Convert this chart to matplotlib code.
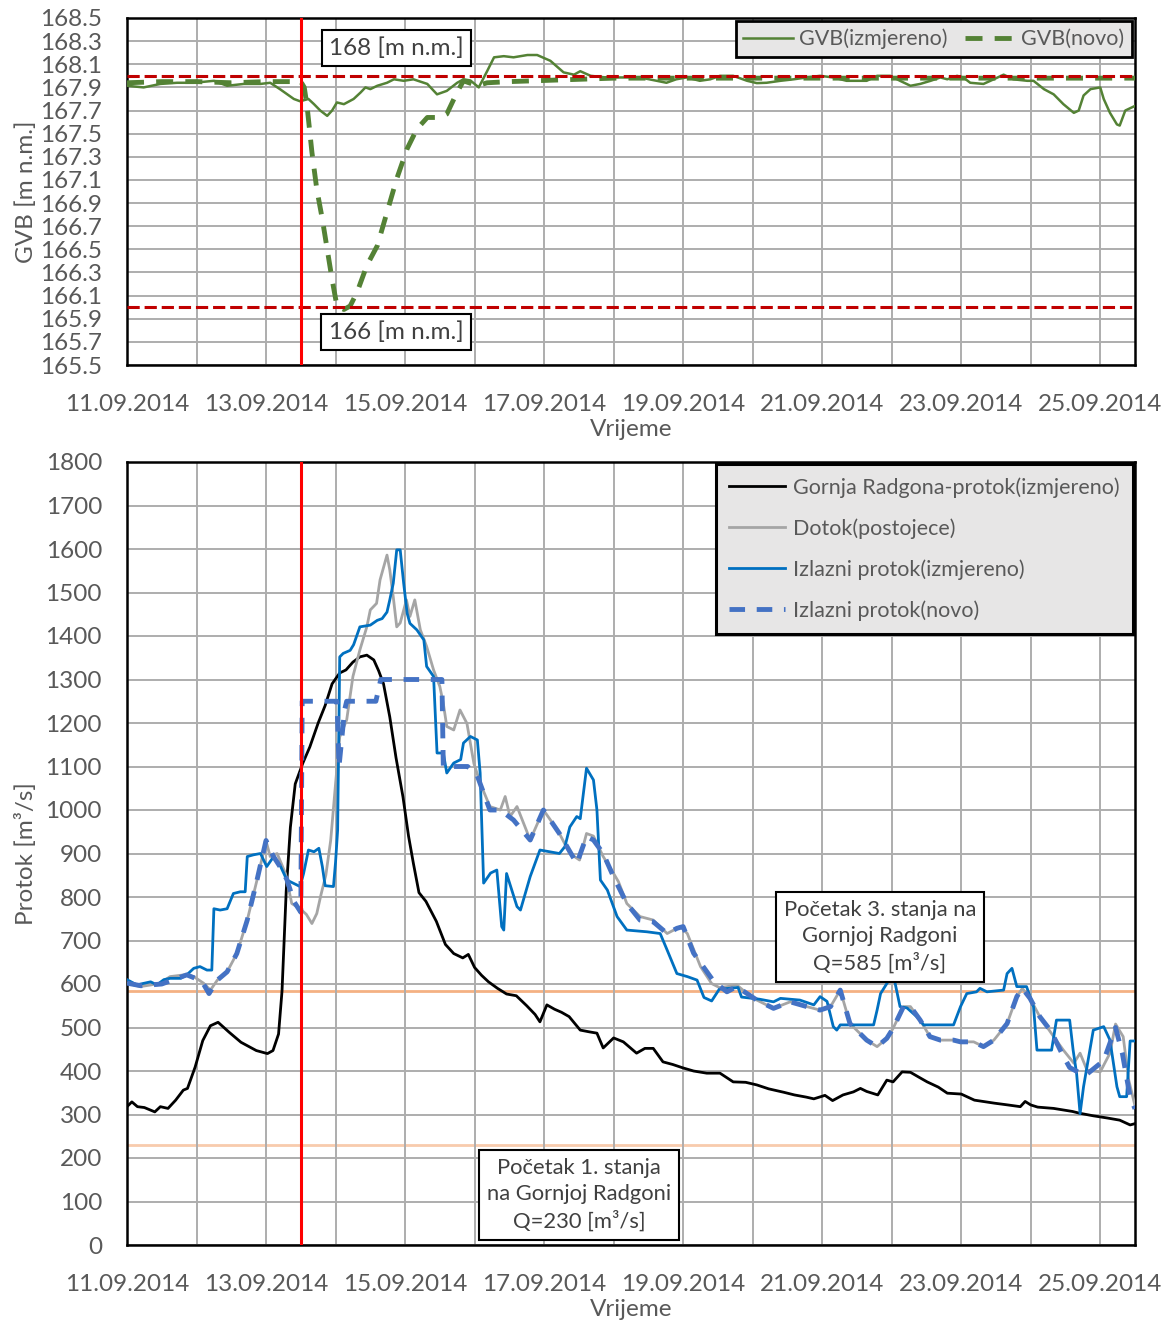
import matplotlib
matplotlib.use('Agg')
import matplotlib.pyplot as plt
from matplotlib.lines import Line2D

plt.rcParams['font.family'] = ['Lato', 'DejaVu Sans']

# --------------- podaci ---------------------------------------------
# vrijeme u danima od 11.09.2014 00:00
x_tick_pos = [0, 2, 4, 6, 8, 10, 12, 14]
x_tick_labels = ['11.09.2014', '13.09.2014', '15.09.2014', '17.09.2014',
                 '19.09.2014', '21.09.2014', '23.09.2014', '25.09.2014']
t_promjena = 2.5   # pocetak novog rada (crvena linija)

# GVB (izmjereno)
gvb_mj_t = [0, 0.24, 0.48, 0.72, 0.96, 1.25, 1.44, 1.68, 1.92, 2.06, 2.2, 2.4, 2.49, 2.61, 2.69,
            2.78, 2.88, 2.95, 3.02, 3.12, 3.26, 3.36, 3.43, 3.5, 3.6, 3.74, 3.84, 3.98, 4.12, 4.32,
            4.46, 4.6, 4.75, 4.84, 4.94, 5.06, 5.18, 5.28, 5.42, 5.56, 5.76, 5.9, 6.09, 6.28, 6.43,
            6.52, 6.67, 6.91, 7.09, 7.38, 7.62, 7.76, 7.9, 8.05, 8.24, 8.39, 8.53, 8.72, 8.92, 9.06,
            9.2, 9.4, 9.59, 9.78, 9.97, 10.16, 10.35, 10.64, 10.79, 10.98, 11.12, 11.27, 11.41,
            11.56, 11.7, 11.8, 11.94, 12.03, 12.13, 12.32, 12.42, 12.61, 12.75, 12.95, 13.04,
            13.19, 13.33, 13.47, 13.62, 13.69, 13.76, 13.86, 14.0, 14.05, 14.14, 14.24, 14.28,
            14.36, 14.5]
gvb_mj = [167.914, 167.90, 167.93, 167.94, 167.94, 167.957, 167.914, 167.93, 167.93, 167.94,
          167.885, 167.80, 167.78, 167.80, 167.755, 167.70, 167.654, 167.70, 167.77, 167.755,
          167.80, 167.856, 167.90, 167.885, 167.914, 167.94, 167.97, 167.957, 167.97, 167.93,
          167.84, 167.87, 167.94, 167.97, 167.96, 167.90, 168.04, 168.16, 168.17, 168.16, 168.18,
          168.18, 168.13, 168.03, 168.01, 168.04, 168.0, 167.985, 167.986, 167.986, 167.957,
          167.94, 167.97, 167.986, 167.957, 167.97, 168.0, 168.0, 167.957, 167.937, 167.94,
          167.957, 167.97, 167.986, 168.0, 167.986, 167.957, 167.957, 168.0, 168.0, 167.957,
          167.914, 167.93, 167.957, 167.986, 167.97, 168.0, 167.986, 167.94, 167.93, 167.957,
          168.01, 167.97, 167.957, 167.957, 167.885, 167.84, 167.755, 167.68, 167.70, 167.83,
          167.885, 167.90, 167.80, 167.68, 167.58, 167.57, 167.70, 167.74]

# GVB (novo)
gvb_novo_t = [0, 0.5, 1.0, 1.5, 2.0, 2.5, 2.55, 2.59, 2.66, 2.73, 2.81, 2.88, 2.95, 3.02, 3.12,
              3.21, 3.31, 3.45, 3.6, 3.74, 3.88, 4.03, 4.17, 4.32, 4.5, 4.6, 4.75, 4.84, 5.04,
              5.18, 5.5, 6.0, 7.0, 8.0, 9.0, 10.0, 11.0, 12.0, 13.0, 14.0, 14.5]
gvb_novo = [167.94, 167.95, 167.95, 167.94, 167.95, 167.95, 167.9, 167.74, 167.34, 167.02,
            166.76, 166.5, 166.24, 166.01, 165.98, 166.01, 166.13, 166.36, 166.53, 166.82,
            167.11, 167.37, 167.54, 167.64, 167.64, 167.67, 167.86, 167.957, 167.914, 167.94,
            167.95, 167.96, 167.98, 167.98, 167.98, 167.98, 167.98, 167.98, 167.98, 167.98,
            167.98]

# Gornja Radgona - protok (izmjereno)
gr_t = [0, 0.07, 0.15, 0.25, 0.4, 0.48, 0.59, 0.7, 0.81, 0.87, 0.98, 1.09, 1.2, 1.31, 1.47,
        1.64, 1.86, 2.02, 2.1, 2.18, 2.23, 2.29, 2.35, 2.42, 2.53, 2.63, 2.75, 2.85, 2.95, 3.06,
        3.15, 3.25, 3.35, 3.45, 3.55, 3.62, 3.69, 3.78, 3.87, 3.97, 4.05, 4.12, 4.2, 4.3, 4.45,
        4.58, 4.7, 4.83, 4.91, 5.0, 5.1, 5.2, 5.33, 5.46, 5.6, 5.75, 5.87, 5.94, 6.04, 6.15, 6.25,
        6.36, 6.52, 6.65, 6.76, 6.85, 7.0, 7.14, 7.33, 7.45, 7.57, 7.71, 7.85, 8.0, 8.15, 8.34,
        8.53, 8.72, 8.9, 9.06, 9.23, 9.45, 9.6, 9.77, 9.88, 10.04, 10.15, 10.3, 10.45, 10.55,
        10.64, 10.8, 10.93, 11.02, 11.15, 11.27, 11.4, 11.51, 11.67, 11.8, 12.0, 12.19, 12.48,
        12.67, 12.85, 12.92, 13.0, 13.1, 13.33, 13.6, 13.7, 13.9, 14.1, 14.28, 14.43, 14.5]
gr_q = [318, 329, 318, 316, 306, 318, 314, 333, 356, 360, 409, 470, 504, 512, 489, 466, 447, 440,
        447, 485, 584, 813, 960, 1060, 1108, 1145, 1200, 1240, 1290, 1315, 1322, 1340, 1352, 1356,
        1345, 1320, 1290, 1214, 1120, 1030, 940, 877, 810, 790, 744, 691, 670, 660, 668, 638, 620,
        605, 590, 577, 573, 550, 530, 513, 552, 542, 535, 525, 494, 490, 487, 453, 476, 467, 441,
        452, 452, 421, 415, 407, 400, 395, 395, 375, 374, 368, 359, 351, 345, 340, 336, 344, 332,
        345, 352, 360, 353, 345, 379, 375, 398, 397, 385, 375, 363, 349, 347, 333, 326, 322, 318,
        330, 322, 317, 314, 307, 303, 297, 292, 287, 276, 279]

# Dotok (postojece)
dotok_t = [0, 0.19, 0.35, 0.48, 0.62, 0.82, 0.96, 1.1, 1.2, 1.3, 1.44, 1.58, 1.73, 1.87, 1.97,
           2.01, 2.06, 2.16, 2.28, 2.37, 2.49, 2.58, 2.66, 2.73, 2.79, 2.86, 2.93, 3.0, 3.06,
           3.16, 3.25, 3.35, 3.45, 3.5, 3.59, 3.64, 3.74, 3.78, 3.83, 3.88, 3.93, 4.02, 4.07,
           4.14, 4.22, 4.31, 4.41, 4.5, 4.55, 4.6, 4.7, 4.79, 4.89, 4.99, 5.08, 5.22, 5.37, 5.44,
           5.51, 5.61, 5.8, 5.99, 6.1, 6.22, 6.37, 6.51, 6.61, 6.71, 6.85, 7.0, 7.07, 7.19, 7.38,
           7.57, 7.77, 7.96, 8.06, 8.25, 8.41, 8.52, 8.63, 8.77, 8.92, 9.06, 9.3, 9.54, 9.78,
           9.97, 10.12, 10.26, 10.4, 10.64, 10.79, 10.93, 11.02, 11.17, 11.27, 11.41, 11.55,
           11.7, 11.89, 11.99, 12.18, 12.32, 12.47, 12.66, 12.8, 12.88, 12.99, 13.13, 13.33,
           13.47, 13.62, 13.71, 13.81, 14.0, 14.14, 14.22, 14.33, 14.41, 14.5]
dotok_q = [602, 594, 598, 602, 617, 621, 617, 602, 586, 609, 628, 670, 747, 839, 908, 923, 893,
           900, 854, 785, 773, 760, 739, 762, 805, 850, 930, 1060, 1168, 1207, 1307, 1368, 1421,
           1460, 1475, 1529, 1586, 1552, 1490, 1421, 1430, 1483, 1445, 1483, 1414, 1376, 1322,
           1284, 1245, 1192, 1184, 1230, 1199, 1107, 1062, 1008, 1000, 1031, 985, 1008, 931,
           1000, 975, 946, 900, 885, 946, 940, 893, 854, 835, 785, 755, 747, 716, 732, 716, 640,
           601, 592, 594, 598, 578, 563, 544, 559, 548, 540, 548, 586, 509, 471, 456, 475, 498,
           548, 548, 517, 479, 471, 471, 467, 467, 456, 471, 509, 571, 590, 567, 525, 479, 448,
           418, 441, 402, 398, 441, 508, 479, 379, 320]

# Izlazni protok (izmjereno)
izl_t = [0, 0.14, 0.34, 0.43, 0.53, 0.62, 0.77, 0.86, 0.96, 1.05, 1.15, 1.22, 1.25, 1.34, 1.44,
         1.53, 1.63, 1.7, 1.73, 1.82, 1.92, 2.01, 2.11, 2.21, 2.3, 2.4, 2.49, 2.54, 2.61, 2.69,
         2.76, 2.81, 2.85, 2.97, 3.0, 3.03, 3.06, 3.11, 3.21, 3.26, 3.35, 3.5, 3.6, 3.67, 3.74,
         3.78, 3.83, 3.88, 3.93, 3.98, 4.03, 4.07, 4.17, 4.27, 4.31, 4.41, 4.44, 4.46, 4.55, 4.6,
         4.7, 4.8, 4.84, 4.94, 5.04, 5.08, 5.13, 5.23, 5.32, 5.39, 5.42, 5.46, 5.61, 5.66, 5.8,
         5.94, 6.22, 6.3, 6.37, 6.47, 6.52, 6.61, 6.71, 6.76, 6.81, 6.91, 7.05, 7.19, 7.48, 7.67,
         7.77, 7.91, 8.06, 8.2, 8.3, 8.41, 8.52, 8.79, 8.84, 9.1, 9.3, 9.4, 9.68, 9.88, 9.97,
         10.07, 10.16, 10.21, 10.26, 10.74, 10.79, 10.84, 10.93, 11.02, 11.12, 11.22, 11.36,
         11.46, 11.89, 11.99, 12.08, 12.22, 12.27, 12.37, 12.61, 12.66, 12.73, 12.8, 12.94,
         13.04, 13.09, 13.3, 13.37, 13.56, 13.61, 13.66, 13.71, 13.76, 13.9, 14.05, 14.14,
         14.24, 14.28, 14.38, 14.43, 14.5]
izl_q = [610, 598, 605, 598, 610, 613, 613, 621, 636, 640, 632, 632, 773, 770, 773, 808, 812,
         812, 893, 897, 900, 870, 893, 870, 839, 831, 824, 854, 908, 904, 912, 870, 826, 824,
         880, 954, 1352, 1360, 1367, 1380, 1421, 1425, 1436, 1440, 1455, 1483, 1521, 1598, 1598,
         1521, 1452, 1429, 1414, 1391, 1330, 1307, 1200, 1131, 1131, 1085, 1108, 1116, 1154,
         1169, 1161, 1085, 832, 855, 862, 732, 724, 854, 778, 770, 847, 908, 900, 916, 961, 985,
         980, 1096, 1069, 1000, 839, 816, 755, 724, 720, 716, 678, 624, 617, 609, 569, 561, 588,
         592, 570, 565, 559, 567, 563, 552, 571, 560, 502, 494, 506, 506, 540, 578, 601, 624,
         548, 545, 525, 506, 506, 548, 578, 582, 590, 582, 586, 624, 636, 594, 594, 548, 448,
         448, 517, 517, 448, 394, 302, 364, 494, 502, 471, 364, 341, 341, 469, 469]

# Izlazni protok (novo)
novo_t = [0, 0.2, 0.5, 0.86, 1.0, 1.1, 1.18, 1.3, 1.44, 1.58, 1.73, 1.87, 2.0, 2.1, 2.2, 2.3,
          2.4, 2.5, 2.52, 3.02, 3.05, 3.13, 3.16, 3.58, 3.65, 4.53, 4.55, 4.9, 5.04, 5.22, 5.37,
          5.56, 5.8, 5.99, 6.22, 6.47, 6.61, 6.71, 6.85, 7.0, 7.19, 7.38, 7.57, 7.77, 7.91, 8.0,
          8.15, 8.44, 8.63, 8.77, 8.92, 9.06, 9.3, 9.54, 9.78, 9.97, 10.12, 10.26, 10.4, 10.64,
          10.79, 10.93, 11.02, 11.17, 11.27, 11.41, 11.55, 11.7, 11.89, 11.99, 12.18, 12.32,
          12.47, 12.66, 12.8, 12.88, 12.99, 13.13, 13.29, 13.45, 13.56, 13.78, 14.05, 14.22,
          14.32, 14.43, 14.5]
novo_q = [602, 596, 600, 621, 612, 600, 578, 609, 628, 670, 747, 839, 930, 895, 870, 840, 790,
          765, 1250, 1250, 1100, 1230, 1250, 1250, 1300, 1300, 1100, 1100, 1078, 1000, 1000, 977,
          931, 1000, 946, 877, 939, 931, 900, 846, 785, 747, 743, 716, 728, 732, 671, 606, 582,
          594, 578, 563, 544, 559, 548, 540, 548, 586, 509, 471, 456, 475, 498, 548, 548, 517,
          479, 471, 471, 467, 467, 456, 471, 509, 571, 590, 567, 525, 492, 440, 408, 389, 424,
          500, 439, 340, 313]

gvb_granice = [168.0, 166.0]
q_stanja = [585, 230]

# --------------- crtanje ---------------------------------------------
W, H = 1172, 1322
fig = plt.figure(figsize=(W / 100, H / 100), dpi=100)
ax1 = fig.add_axes([127 / W, 1 - 365 / H, 1008 / W, 347 / H])
ax2 = fig.add_axes([127 / W, 1 - 1245 / H, 1008 / W, 783 / H])

txt_col = '#595959'
grid_col = '#ADADAD'
fs = 17.5


def uredi_os(ax):
    ax.set_xlim(0, 14.5)
    ax.set_xticks(x_tick_pos)
    ax.set_xticklabels(x_tick_labels)
    ax.set_xticks(range(0, 15), minor=True)
    ax.grid(True, which='both', color=grid_col, lw=1.4, zorder=0)
    ax.tick_params(which='both', length=0, labelsize=fs, labelcolor=txt_col, pad=18)
    ax.tick_params(axis='x', which='both', pad=21)
    for s in ax.spines.values():
        s.set_color('black')
        s.set_linewidth(1.8)
    ax.set_xlabel('Vrijeme', fontsize=fs, color=txt_col, labelpad=3)


# ---- gornji graf: GVB ----
uredi_os(ax1)
ax1.set_ylim(165.5, 168.5)
ax1.set_yticks([165.5 + 0.2 * i for i in range(16)])
ax1.set_yticklabels(['%.1f' % (165.5 + 0.2 * i) for i in range(16)])
ax1.set_ylabel('GVB [m n.m.]', fontsize=fs, color=txt_col, labelpad=2)

ax1.plot(gvb_mj_t, gvb_mj, color='#548235', lw=1.8, zorder=3)
ax1.plot(gvb_novo_t, gvb_novo, color='#548235', lw=3.5, dashes=(3.5, 2.5), zorder=3)
for g in gvb_granice:
    ax1.axhline(g, color='#C00000', lw=2.2, dashes=(4, 1.6), zorder=4)
ax1.axvline(t_promjena, color='#FF0000', lw=2.2, zorder=5)

box = dict(boxstyle='square,pad=0.3', fc='white', ec='black', lw=1.5)
ax1.text(3.88, 168.24, '168 [m n.m.]', fontsize=17.5, color='#404040', ha='center',
         va='center', bbox=box, zorder=6)
ax1.text(3.87, 165.785, '166 [m n.m.]', fontsize=17.5, color='#404040', ha='center',
         va='center', bbox=box, zorder=6)

leg1 = ax1.legend([Line2D([], [], color='#548235', lw=1.8),
                   Line2D([], [], color='#548235', lw=3.5, dashes=(3.5, 2.5))],
                  ['GVB(izmjereno)', 'GVB(novo)'], ncol=2, loc='upper right',
                  bbox_to_anchor=(1.0, 1.0), borderaxespad=0.15, fontsize=15.5,
                  fancybox=False, framealpha=1, facecolor='#E7E6E6', edgecolor='black',
                  handlelength=2.3, columnspacing=0.8, handletextpad=0.3, borderpad=0.35)
leg1.get_frame().set_linewidth(2)
for t in leg1.get_texts():
    t.set_color(txt_col)
leg1.set_zorder(7)

# ---- donji graf: protok ----
uredi_os(ax2)
ax2.set_ylim(0, 1800)
ax2.set_yticks(range(0, 1801, 100))
ax2.set_ylabel('Protok [m³/s]', fontsize=fs, color=txt_col, labelpad=6)

ax2.axhline(q_stanja[0], color='#F4B183', lw=2, zorder=1)
ax2.axhline(q_stanja[1], color='#F8CBAD', lw=2, zorder=1)
ax2.plot(gr_t, gr_q, color='black', lw=2, zorder=3, label='Gornja Radgona-protok(izmjereno)')
ax2.plot(dotok_t, dotok_q, color='#A5A5A5', lw=2, zorder=3, label='Dotok(postojece)')
ax2.plot(izl_t, izl_q, color='#0070C0', lw=2, zorder=4, label='Izlazni protok(izmjereno)')
ax2.plot(novo_t, novo_q, color='#4472C4', lw=3.5, dashes=(3.2, 2.4), zorder=4,
         label='Izlazni protok(novo)')
ax2.axvline(t_promjena, color='#FF0000', lw=2.2, zorder=5)

ax2.text(10.83, 708, 'Početak 3. stanja na\nGornjoj Radgoni\nQ=585 [m³/s]', fontsize=15.8,
         color='#404040', ha='center', va='center', linespacing=1.38,
         bbox=dict(boxstyle='square,pad=0.35', fc='white', ec='black', lw=1.5), zorder=6)
ax2.text(6.5, 115, 'Početak 1. stanja\nna Gornjoj Radgoni\nQ=230 [m³/s]', fontsize=15.8,
         color='#404040', ha='center', va='center', linespacing=1.38,
         bbox=dict(boxstyle='square,pad=0.35', fc='white', ec='black', lw=1.5), zorder=6)

leg2 = ax2.legend(loc='upper right', bbox_to_anchor=(1.0, 1.0), borderaxespad=0.1,
                  fontsize=15.5, fancybox=False, framealpha=1, facecolor='#E7E6E6',
                  edgecolor='black', handlelength=2.6, handletextpad=0.4, labelspacing=0.95,
                  borderpad=0.6)
leg2.get_frame().set_linewidth(2.2)
for t in leg2.get_texts():
    t.set_color(txt_col)
leg2.set_zorder(7)

fig.savefig('out.png', dpi=100)
